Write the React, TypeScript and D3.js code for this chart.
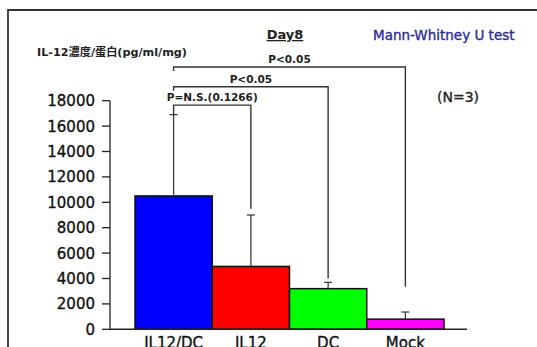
import React from 'react';
import * as d3 from 'd3';

const width = 537;
const height = 347;

const categories = ['IL12/DC', 'IL12', 'DC', 'Mock'];
const means = [10500, 4950, 3200, 800];
const sds = [6400, 4050, 500, 560];
const colors = ['#0000ff', '#ff0000', '#00ff00', '#ff00ff'];
const yTicks = [0, 2000, 4000, 6000, 8000, 10000, 12000, 14000, 16000, 18000];

// comparisons against IL12/DC: label, target, bracket level, where the drop line stops
const pLabels = ['P=N.S.(0.1266)', 'P<0.05', 'P<0.05'];
const pTargets = ['IL12', 'DC', 'Mock'];
const pLevels = [17650, 19100, 20650];
const pDropEnds = [9500, 4000, 3350];

const font = '"DejaVu Sans", "Noto Sans CJK JP", sans-serif';

const x = d3.scaleBand().domain(categories).range([135, 444]).padding(0);
const y = d3.scaleLinear().domain([0, 18000]).range([329.3, 100.7]);

const cx = (c: string) => (x(c) ?? 0) + x.bandwidth() / 2;

// slightly heavier than regular, like the original's font
const semi = { stroke: 'currentColor', strokeWidth: 0.35 };

const App = () => {
  const base = categories[0];
  const baseTop = y(means[0] + sds[0]);
  return (
    <svg width={width} height={height} style={{ position: 'absolute', left: 0, top: 0, background: '#fff' }}>
      {/* frame */}
      <path d={`M8,${height} V10 H${width}`} fill="none" stroke="#333" strokeWidth={1.8} />

      {/* headings */}
      <text x={285} y={39} textAnchor="middle" fontFamily={font} fontSize={13} fontWeight="bold" fill="#222" textDecoration="underline">
        Day8
      </text>
      <text x={373} y={39.5} fontFamily={font} fontSize={13.5} fill="#2a2a9c" color="#2a2a9c" {...semi}>
        Mann-Whitney U test
      </text>
      <text x={37} y={56} fontFamily={font} fontSize={11.2} fontWeight="bold" fill="#222">
        IL-12濃度/蛋白(pg/ml/mg)
      </text>
      <text x={437} y={102} fontFamily={font} fontSize={14} fill="#222" color="#222" {...semi}>
        (N=3)
      </text>

      {/* y axis */}
      <line x1={110} x2={110} y1={y(18000)} y2={y(0)} stroke="#222" strokeWidth={1.3} />
      {yTicks.map(t => (
        <g key={t}>
          <line x1={102} x2={110} y1={y(t)} y2={y(t)} stroke="#222" strokeWidth={1.3} />
          <text x={95} y={y(t)} dy="0.36em" textAnchor="end" fontFamily={font} fontSize={15} fill="#111" color="#111" {...semi}>
            {t}
          </text>
        </g>
      ))}

      {/* bars */}
      {categories.map((c, i) => (
        <rect
          key={c}
          x={x(c)}
          y={y(means[i])}
          width={x.bandwidth()}
          height={y(0) - y(means[i])}
          fill={colors[i]}
          stroke="#111"
          strokeWidth={1.5}
        />
      ))}
      <line x1={110} x2={467} y1={y(0)} y2={y(0)} stroke="#222" strokeWidth={1.5} />

      {/* error bars */}
      {categories.map((c, i) => (
        <g key={c} stroke="#333" strokeWidth={1.2}>
          <line x1={cx(c)} x2={cx(c)} y1={y(means[i])} y2={y(means[i] + sds[i])} />
          <line x1={cx(c) - 4} x2={cx(c) + 4} y1={y(means[i] + sds[i])} y2={y(means[i] + sds[i])} />
        </g>
      ))}

      {/* category labels */}
      {categories.map(c => (
        <text key={c} x={cx(c)} y={348} textAnchor="middle" fontFamily={font} fontSize={15} fill="#111" color="#111" {...semi}>
          {c}
        </text>
      ))}

      {/* significance brackets */}
      {pTargets.map((t, i) => {
        const ly = y(pLevels[i]);
        const stemEnd = i === 0 ? baseTop : ly + 4;
        return (
          <g key={t + i}>
            <path
              d={`M${cx(base)},${stemEnd} V${ly} H${cx(t)} V${y(pDropEnds[i])}`}
              fill="none"
              stroke="#333"
              strokeWidth={1.4}
            />
            <text
              x={(cx(base) + cx(t)) / 2}
              y={ly - 4}
              textAnchor="middle"
              fontFamily={font}
              fontSize={10.5}
              fontWeight="bold"
              fill="#222"
            >
              {pLabels[i]}
            </text>
          </g>
        );
      })}
    </svg>
  );
};

export default App;
